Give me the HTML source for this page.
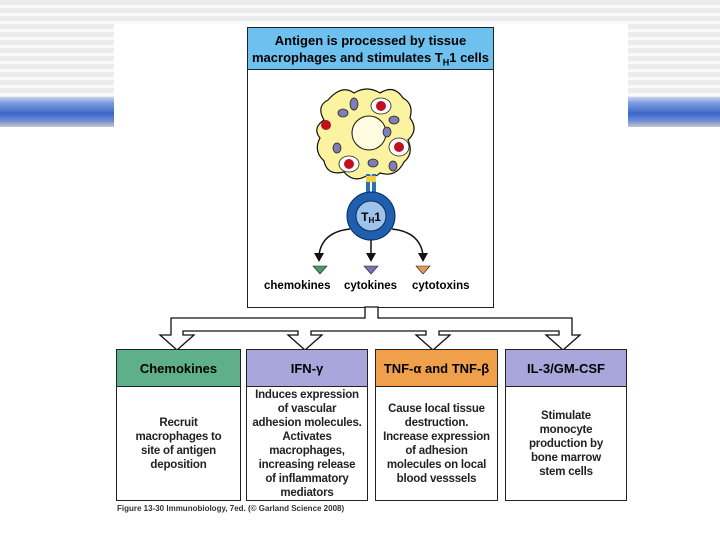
<!DOCTYPE html>
<html><head><style>
body{margin:0;width:720px;height:540px;position:relative;overflow:hidden;background:#fff;font-family:"Liberation Sans",sans-serif}
.stripes{position:absolute;left:0;top:0;width:720px;height:97px;background:repeating-linear-gradient(#ececec 0 5px,#fafafa 5px 8px)}
.band{position:absolute;left:0;top:97px;width:720px;height:30px;background:linear-gradient(#c5d4ee 0,#7d9de0 20%,#3b65c9 55%,#6f8fd8 80%,#c8c8c8 100%)}
.panel{position:absolute;left:114px;top:24px;width:514px;height:516px;background:#fff}
.box{position:absolute;border:1.5px solid #222;box-sizing:border-box;background:#fff}
.hd{position:absolute;left:0;right:0;top:0;height:36px;border-bottom:1.5px solid #222;font-weight:bold;font-size:13px;display:flex;align-items:center;justify-content:center}
.bd{position:absolute;left:0;right:0;top:37px;bottom:0;display:flex;align-items:center;justify-content:center;text-align:center;font-weight:bold;font-size:11.5px;line-height:14px;color:#222;letter-spacing:-0.2px}
</style></head><body>
<div class="stripes"></div><div class="band"></div>
<div class="panel"></div>
<div class="box" style="left:247px;top:27px;width:247px;height:281px">
 <div style="position:absolute;left:0;right:0;top:0;height:42px;background:#6ec1ee;border-bottom:1.5px solid #222;text-align:center;font-weight:bold;font-size:13px;line-height:17px;padding-top:4px;box-sizing:border-box">Antigen is processed by tissue<br>macrophages and stimulates T<sub style="font-size:9px">H</sub>1 cells</div>
</div>
<svg style="position:absolute;left:0;top:0" width="720" height="540">
 <path d="M328,100 Q342,84 354,93 Q367,85 380,93 Q394,84 403,98 Q414,104 410,118 Q419,130 408,140 Q414,154 404,162 Q396,178 380,173 Q374,179 368,175 Q354,184 344,172 Q327,176 324,161 Q313,151 320,138 Q312,128 324,120 Q316,106 328,100Z" fill="#fbf3a0" stroke="#111" stroke-width="1.2"/>
 <circle cx="369" cy="133" r="17" fill="#fffbe0" stroke="#111"/>
 <g fill="#7f7fb5" stroke="#222" stroke-width=".8">
 <ellipse cx="354" cy="104" rx="4" ry="6"/><ellipse cx="343" cy="113" rx="5" ry="4"/><ellipse cx="394" cy="120" rx="5" ry="4"/><ellipse cx="387" cy="132" rx="4" ry="5"/><ellipse cx="337" cy="148" rx="4" ry="5"/><ellipse cx="373" cy="163" rx="5" ry="4"/><ellipse cx="393" cy="166" rx="4" ry="5"/></g>
 <g stroke="#222" stroke-width=".8" fill="#fff"><ellipse cx="381" cy="106" rx="10" ry="8"/><ellipse cx="399" cy="147" rx="10" ry="9"/><ellipse cx="349" cy="164" rx="10" ry="8"/></g>
 <g fill="#c01020"><circle cx="381" cy="106" r="5"/><circle cx="399" cy="147" r="5"/><circle cx="349" cy="164" r="5"/><circle cx="326" cy="125" r="5"/></g>
 <rect x="366" y="174" width="4" height="20" fill="#2b6fb8"/><rect x="372" y="174" width="4" height="20" fill="#2b6fb8"/><rect x="366" y="176" width="10" height="6" fill="#f0d040"/>
 <circle cx="371" cy="216" r="24" fill="#1e5fb0" stroke="#0a2a60"/>
 <circle cx="371" cy="216" r="15" fill="#9ec3ea" stroke="#0a2a60"/>
 <text x="371" y="221" text-anchor="middle" font-size="12" font-weight="bold" font-family="Liberation Sans">T<tspan font-size="8" dy="2">H</tspan><tspan dy="-2">1</tspan></text>
 <g fill="none" stroke="#111" stroke-width="1.5"><path d="M350,229 Q322,232 319,255"/><path d="M371,240 L371,255"/><path d="M392,229 Q420,232 423,255"/></g>
 <g fill="#111"><path d="M314,253 L324,253 L319,262Z"/><path d="M366,253 L376,253 L371,262Z"/><path d="M418,253 L428,253 L423,262Z"/></g>
 <path d="M313,266 L327,266 L320,274Z" fill="#4d9a6e" stroke="#222" stroke-width=".6"/>
 <path d="M364,266 L378,266 L371,274Z" fill="#7c74b8" stroke="#222" stroke-width=".6"/>
 <path d="M416,266 L430,266 L423,274Z" fill="#e59a55" stroke="#222" stroke-width=".6"/>
 <text font-size="11.5" font-weight="bold" font-family="Liberation Sans" y="289"><tspan x="264">chemokines</tspan><tspan x="344">cytokines</tspan><tspan x="412">cytotoxins</tspan></text>
 <path d="M365,307 L365,318 L171,318 L171,335 L160,335 L177,350 L194,335 L183,335 L183,331 L298,331 L298,335 L288,335 L305,350 L322,335 L311,335 L311,331 L426,331 L426,335 L416,335 L433,350 L450,335 L439,335 L439,331 L559,331 L559,335 L546,335 L563,350 L580,335 L572,335 L572,318 L378,318 L378,307Z" fill="#fff" stroke="#111" stroke-width="1.3"/>
</svg>
<div class="box" style="left:116px;top:349px;width:125px;height:152px"><div class="hd" style="background:#5fb08a">Chemokines</div><div class="bd">Recruit<br>macrophages to<br>site of antigen<br>deposition</div></div>
<div class="box" style="left:246px;top:349px;width:122px;height:152px"><div class="hd" style="background:#a9a6dc">IFN-γ</div><div class="bd">Induces expression<br>of vascular<br>adhesion molecules.<br>Activates<br>macrophages,<br>increasing release<br>of inflammatory<br>mediators</div></div>
<div class="box" style="left:375px;top:349px;width:123px;height:152px"><div class="hd" style="background:#f0a04a">TNF-α and TNF-β</div><div class="bd">Cause local tissue<br>destruction.<br>Increase expression<br>of adhesion<br>molecules on local<br>blood vesssels</div></div>
<div class="box" style="left:505px;top:349px;width:122px;height:152px"><div class="hd" style="background:#a9a6dc">IL-3/GM-CSF</div><div class="bd">Stimulate<br>monocyte<br>production by<br>bone marrow<br>stem cells</div></div>
<div style="position:absolute;left:117px;top:504px;font-size:8px;font-weight:bold;color:#333">Figure 13-30 Immunobiology, 7ed. (© Garland Science 2008)</div>
</body></html>
